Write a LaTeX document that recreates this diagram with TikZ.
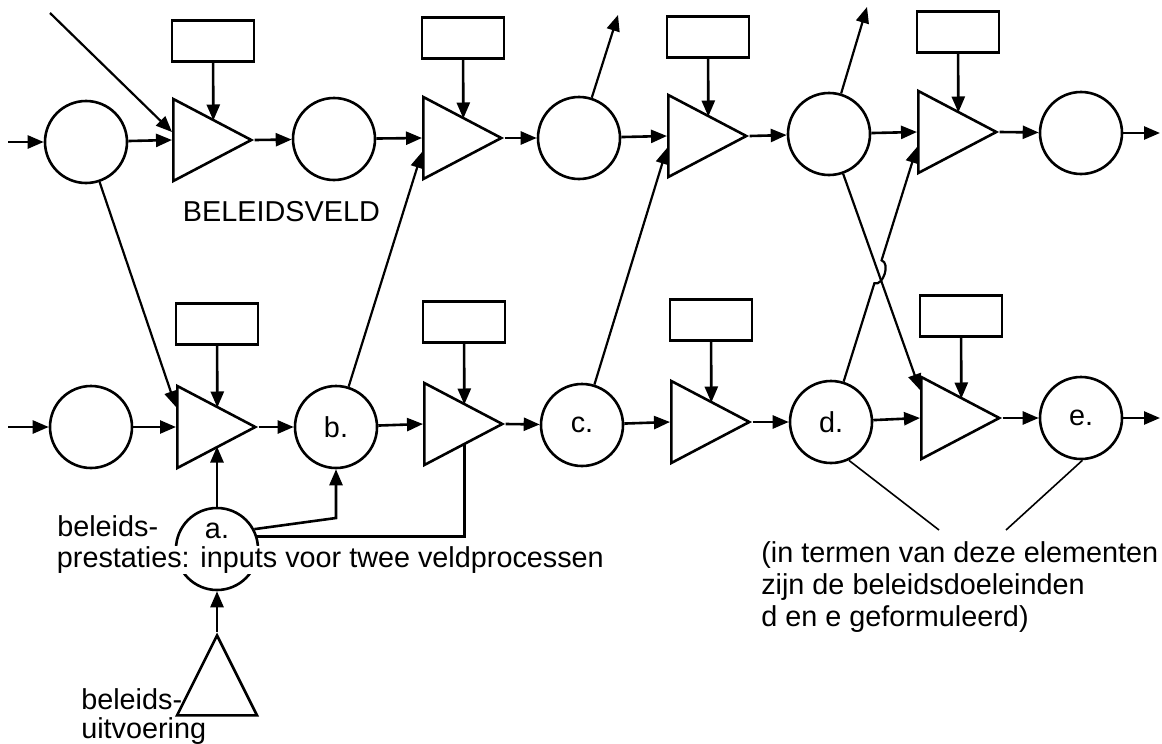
\documentclass[tikz,border=0pt]{standalone}
\usepackage{fontspec}
\setmainfont{Liberation Sans}
\usetikzlibrary{shapes.geometric,arrows.meta,calc,intersections}

\begin{document}
\begin{tikzpicture}[x=0.5pt, y=-0.5pt, line width=1.3pt,
  every node/.style={font=\fontsize{14.4pt}{16pt}\selectfont},
  proc/.style={draw, circle, minimum size=41pt, inner sep=0pt},
  amp/.style={draw, isosceles triangle, isosceles triangle stretches, minimum width=41pt, minimum height=39pt, inner sep=0pt, anchor=west},
  ctrl/.style={draw, rectangle, minimum width=41pt, minimum height=20.5pt, inner sep=0pt},
  arr/.style={-{Triangle[length=8pt,width=6.5pt]}},
  link/.style={line width=1.1pt}]
\useasboundingbox (0,0) rectangle (1162,744);
% beleidsveld, bovenste rij
\node[proc] (C1) at (86,142) {};
\node[amp] (T1) at (172,140) {};
\node[ctrl] (B1) at (213,41) {};
\node[proc] (C2) at (334,139) {};
\node[amp] (T2) at (422,138) {};
\node[ctrl] (B2) at (463,38) {};
\node[proc] (C3) at (579,138) {};
\node[amp] (T3) at (667,136) {};
\node[ctrl] (B3) at (708,37) {};
\node[proc] (C4) at (829,134) {};
\node[amp] (T4) at (917,132) {};
\node[ctrl] (B4) at (958,32) {};
\node[proc] (C5) at (1081,133) {};
% onderste rij
\node[proc] (D1) at (91,427) {};
\node[amp] (S1) at (176,427) {};
\node[ctrl] (E1) at (217,324) {};
\node[proc] (b) at (336,427) {b.};
\node[amp] (S2) at (423,424) {};
\node[ctrl] (E2) at (464,322) {};
\node[proc] (c) at (582,425) {c.};
\node[amp] (S3) at (670,422) {};
\node[ctrl] (E3) at (711,320) {};
\node[proc] (d) at (831,422) {d.};
\node[amp] (S4) at (920,418) {};
\node[ctrl] (E4) at (961,316) {};
\node[proc] (e) at (1081,418) {e.};
% beleid
\node[proc] (a) at (217,549) {};
\node[inner sep=0pt] (alab) at (217,531) {a.};
\node[draw, isosceles triangle, isosceles triangle stretches, shape border rotate=90, minimum width=40pt, minimum height=40pt, inner sep=0pt, anchor=apex] (U) at (217,632) {};
\coordinate (in1) at (8,142);
\coordinate (in2) at (8,427);
\coordinate (out1) at (1160,133);
\coordinate (out2) at (1160,418);
\coordinate (src) at (50,13);
\coordinate (up3) at (618,15);
\coordinate (up4) at (867,7);
\coordinate (ab) at (336,518);
\coordinate (vl) at (939,530);
\coordinate (vr) at (1006,530);
\coordinate (T1in) at ($(T1.west)+(0,-8)$);
\coordinate (S1in) at ($(S1.west)+(0,-20)$);
\coordinate (T2in) at ($(T2.west)+(0,14)$);
\coordinate (T3in) at ($(T3.west)+(0,12)$);
\coordinate (S4in) at ($(S4.west)+(0,-28)$);
\coordinate (T4in) at ($(T4.west)+(0,15)$);
\coordinate (S1low) at ($(S1.west)!0.5!(S1.apex)+(0,19.5)$);
\coordinate (S2low) at ($(S2.west)!0.5!(S2.apex)+(0,19.5)$);
% hoofdstroom
\draw[arr] (in1) -- (C1);
\draw[arr] (C1) -- (T1.west);
\draw[arr] (T1.apex) -- (C2);
\draw[arr] (C2) -- (T2.west);
\draw[arr] (T2.apex) -- (C3);
\draw[arr] (C3) -- (T3.west);
\draw[arr] (T3.apex) -- (C4);
\draw[arr] (C4) -- (T4.west);
\draw[arr] (T4.apex) -- (C5);
\draw[arr] (C5) -- (out1);
\draw[arr] (in2) -- (D1);
\draw[arr] (D1) -- (S1.west);
\draw[arr] (S1.apex) -- (b);
\draw[arr] (b) -- (S2.west);
\draw[arr] (S2.apex) -- (c);
\draw[arr] (c) -- (S3.west);
\draw[arr] (S3.apex) -- (d);
\draw[arr] (d) -- (S4.west);
\draw[arr] (S4.apex) -- (e);
\draw[arr] (e) -- (out2);
\foreach \ctl/\tri in {B1/T1, B2/T2, B3/T3, B4/T4, E1/S1, E2/S2, E3/S3, E4/S4}
  \draw[arr] (\ctl) -- ($(\tri.west)!0.5!(\tri.apex)+(0,-19.5)$);
% kruisverbindingen
\draw[link,arr] (src) -- (T1in);
\draw[link,arr] (C1) -- (S1in);
\draw[link,arr] (b) -- (T2in);
\draw[link,arr] (c) -- (T3in);
\draw[link,arr] (C3) -- (up3);
\draw[link,arr] (C4) -- (up4);
\path[name path=fall] (C4) -- (S4in);
\path[name path=rise] (d) -- (T4in);
\path[name intersections={of=fall and rise, by=X}];
\coordinate (h1) at ($(X)!6pt!(d)$);
\coordinate (h2) at ($(X)!6pt!(T4in)$);
\draw[link,arr] (C4) -- (S4in);
\draw[link,arr] (d) -- (h1) to[bend right=90] (h2) -- (T4in);
% beleidsprestaties
\draw[arr] (a) -- (a |- S1low);
\draw[arr] (a.28) -- (ab) -- (b);
\draw (a.17) -- (a.17 -| S2low) -- (S2low);
\draw[arr] (U.apex) -- (a);
\draw[line width=0.8pt] (d.-65) -- (vl);
\draw[line width=0.8pt] (e.-88) -- (vr);
% teksten
\node[anchor=west] (veld) at (175,212) {BELEIDSVELD};
\node[anchor=west, inner sep=0pt] (prest1) at (56,526) {beleids-};
\node[anchor=west, fill=white, inner sep=0.3pt] (prest2) at (55,560) {prestaties: inputs voor twee veldprocessen};
\node[anchor=west, align=left, inner sep=0pt, font=\fontsize{14.4pt}{14.5pt}\selectfont] (uitv) at (80,717) {beleids-\\uitvoering};
\node[anchor=west, align=left, inner sep=0pt] (doel) at (760,587) {(in termen van deze elementen\\zijn de beleidsdoeleinden\\d en e geformuleerd)};
\end{tikzpicture}
\end{document}
